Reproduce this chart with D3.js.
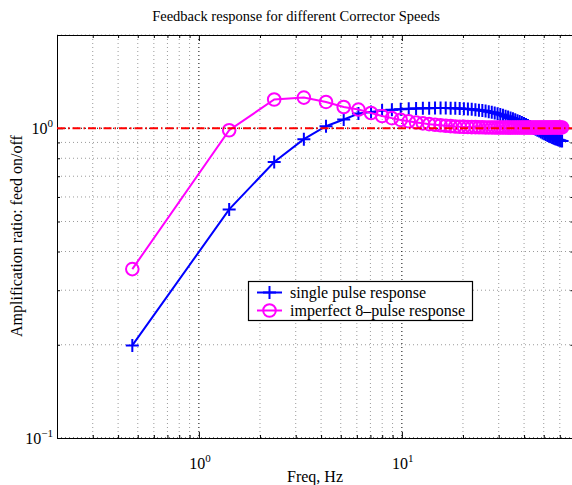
<!DOCTYPE html>
<html>
<head>
<meta charset="utf-8">
<script src="https://cdn.jsdelivr.net/npm/d3@7"></script>
<style>
  body { margin: 0; background: #fff; }
  svg { display: block; font-family: "Liberation Serif", "Times New Roman", serif; }
</style>
</head>
<body>
<svg></svg>
<script>
// odd harmonics of the base frequency, Hz
let freqs = [0.47, 1.41, 2.35, 3.29, 4.23, 5.17, 6.11, 7.05, 7.99, 8.93,
  9.87, 10.81, 11.75, 12.69, 13.63, 14.57, 15.51, 16.45, 17.39, 18.33,
  19.27, 20.21, 21.15, 22.09, 23.03, 23.97, 24.91, 25.85, 26.79, 27.73,
  28.67, 29.61, 30.55, 31.49, 32.43, 33.37, 34.31, 35.25, 36.19, 37.13,
  38.07, 39.01, 39.95, 40.89, 41.83, 42.77, 43.71, 44.65, 45.59, 46.53,
  47.47, 48.41, 49.35, 50.29, 51.23, 52.17, 53.11, 54.05, 54.99, 55.93,
  56.87, 57.81, 58.75, 59.69, 60.63, 61.57];

let singlePulse = [0.199, 0.547, 0.778, 0.922, 1.015, 1.067, 1.115, 1.129, 1.140, 1.147,
  1.152, 1.155, 1.158, 1.160, 1.161, 1.162, 1.162, 1.162, 1.161, 1.160,
  1.158, 1.156, 1.154, 1.151, 1.148, 1.144, 1.140, 1.136, 1.131, 1.126,
  1.120, 1.114, 1.108, 1.101, 1.094, 1.087, 1.080, 1.073, 1.066, 1.058,
  1.051, 1.043, 1.036, 1.028, 1.021, 1.013, 1.006, 0.999, 0.992, 0.985,
  0.979, 0.972, 0.966, 0.960, 0.954, 0.948, 0.943, 0.938, 0.933, 0.929,
  0.925, 0.921, 0.918, 0.915, 0.912, 0.910];

let eightPulse = [0.351, 0.985, 1.238, 1.256, 1.216, 1.171, 1.149, 1.120, 1.095, 1.078,
  1.064, 1.053, 1.044, 1.037, 1.031, 1.026, 1.022, 1.019, 1.016, 1.013,
  1.011, 1.010, 1.009, 1.008, 1.008, 1.007, 1.007, 1.006, 1.006, 1.006,
  1.005, 1.005, 1.005, 1.005, 1.005, 1.005, 1.005, 1.005, 1.005, 1.005,
  1.005, 1.005, 1.005, 1.005, 1.005, 1.005, 1.005, 1.005, 1.005, 1.005,
  1.005, 1.005, 1.005, 1.005, 1.005, 1.005, 1.005, 1.006, 1.006, 1.006,
  1.006, 1.006, 1.006, 1.006, 1.006, 1.006];

let seriesNames = ['single pulse response', 'imperfect 8\u2013pulse response'];
let refLevel = 1;

let xMajor = [1, 10];
let xMinor = [0.3, 0.4, 0.5, 0.6, 0.7, 0.8, 0.9, 2, 3, 4, 5, 6, 7, 8, 9, 20, 30, 40, 50, 60];
let yMajor = [0.1, 1];
let yMinor = [0.2, 0.3, 0.4, 0.5, 0.6, 0.7, 0.8, 0.9, 2];

let width = 572;
let height = 485;
let plotLeft = 57, plotRight = 573.4, plotTop = 35, plotBottom = 438;
let labelSize = 16;

let svg = d3.select('svg').attr('width', width).attr('height', height);

let xScale = d3.scaleLog().domain([0.2, 70]).range([plotLeft, plotRight]);
let yScale = d3.scaleLog().domain([0.1, 2]).range([plotBottom, plotTop]);

// dotted grid
let grid = svg.append('g');
grid.selectAll('.vminor').data(xMinor).enter().append('line')
    .attr('x1', d => xScale(d)).attr('x2', d => xScale(d))
    .attr('y1', plotTop).attr('y2', plotBottom)
    .attr('stroke', '#9a9a9a').attr('stroke-dasharray', '1,3');
grid.selectAll('.hminor').data(yMinor).enter().append('line')
    .attr('y1', d => yScale(d)).attr('y2', d => yScale(d))
    .attr('x1', plotLeft).attr('x2', plotRight)
    .attr('stroke', '#9a9a9a').attr('stroke-dasharray', '1,3');
grid.selectAll('.vmajor').data(xMajor).enter().append('line')
    .attr('x1', d => xScale(d)).attr('x2', d => xScale(d))
    .attr('y1', plotTop).attr('y2', plotBottom)
    .attr('stroke', '#000').attr('stroke-dasharray', '1,3');
grid.selectAll('.hmajor').data(yMajor).enter().append('line')
    .attr('y1', d => yScale(d)).attr('y2', d => yScale(d))
    .attr('x1', plotLeft).attr('x2', plotRight)
    .attr('stroke', '#000').attr('stroke-dasharray', '1,3');

// inward ticks on all four sides
let addAxis = (axis, tx, ty) => {
  let g = svg.append('g').attr('transform', `translate(${tx}, ${ty})`).call(axis);
  g.select('.domain').remove();
  g.selectAll('text').remove();
  g.selectAll('line').attr('stroke', '#000');
};
addAxis(d3.axisBottom(xScale).tickValues(xMajor).tickSize(-6), 0, plotBottom);
addAxis(d3.axisBottom(xScale).tickValues(xMinor).tickSize(-3), 0, plotBottom);
addAxis(d3.axisTop(xScale).tickValues(xMajor).tickSize(-6), 0, plotTop);
addAxis(d3.axisTop(xScale).tickValues(xMinor).tickSize(-3), 0, plotTop);
addAxis(d3.axisLeft(yScale).tickValues(yMajor).tickSize(-6), plotLeft, 0);
addAxis(d3.axisLeft(yScale).tickValues(yMinor).tickSize(-3), plotLeft, 0);
addAxis(d3.axisRight(yScale).tickValues(yMajor).tickSize(-6), plotRight, 0);
addAxis(d3.axisRight(yScale).tickValues(yMinor).tickSize(-3), plotRight, 0);

svg.append('rect')
    .attr('x', plotLeft + 0.5).attr('y', plotTop + 0.5)
    .attr('width', plotRight - plotLeft).attr('height', plotBottom - plotTop)
    .attr('fill', 'none').attr('stroke', '#000').attr('stroke-width', 1);

// power-of-ten labels
let powLabel = (sel, exp) => {
  sel.append('tspan').text('10');
  sel.append('tspan').attr('dy', -7).attr('font-size', 11).text(exp);
};
xMajor.forEach(v => {
  let t = svg.append('text')
      .attr('x', xScale(v) + 1).attr('y', 469)
      .attr('text-anchor', 'middle').attr('font-size', labelSize);
  powLabel(t, String(Math.round(Math.log10(v))));
});
yMajor.forEach(v => {
  let t = svg.append('text')
      .attr('x', 53).attr('y', yScale(v) + 6)
      .attr('text-anchor', 'end').attr('font-size', labelSize);
  powLabel(t, String(Math.round(Math.log10(v))).replace('-', '\u2212'));
});

// data lines
let pts = (vals) => freqs.map((f, i) => [f, vals[i]]);
let line = d3.line().x(d => xScale(d[0])).y(d => yScale(d[1]));

let plusPath = (x, y, s) => `M${x - s},${y}H${x + s}M${x},${y - s}V${y + s}`;

let blue = svg.append('g');
blue.append('path').attr('d', line(pts(singlePulse)))
    .attr('fill', 'none').attr('stroke', '#0000ff').attr('stroke-width', 2);
blue.selectAll('path.m').data(pts(singlePulse)).enter().append('path')
    .attr('class', 'm')
    .attr('d', d => plusPath(xScale(d[0]), yScale(d[1]), 6.5))
    .attr('stroke', '#0000ff').attr('stroke-width', 2);

let pink = svg.append('g');
pink.append('path').attr('d', line(pts(eightPulse)))
    .attr('fill', 'none').attr('stroke', '#ff00ff').attr('stroke-width', 2);
pink.selectAll('circle').data(pts(eightPulse)).enter().append('circle')
    .attr('cx', d => xScale(d[0])).attr('cy', d => yScale(d[1]))
    .attr('r', 6.3)
    .attr('fill', 'none').attr('stroke', '#ff00ff').attr('stroke-width', 2);

// unity reference
svg.append('line')
    .attr('x1', plotLeft).attr('x2', plotRight)
    .attr('y1', yScale(refLevel)).attr('y2', yScale(refLevel))
    .attr('stroke', '#ff0000').attr('stroke-width', 2)
    .attr('stroke-dasharray', '8,3,1.5,3');

// legend
let lg = svg.append('g');
lg.append('rect').attr('x', 248.5).attr('y', 281.5).attr('width', 224).attr('height', 39)
    .attr('fill', '#fff').attr('stroke', '#000').attr('stroke-width', 1.2);
lg.append('line').attr('x1', 257).attr('x2', 282).attr('y1', 292.5).attr('y2', 292.5)
    .attr('stroke', '#0000ff').attr('stroke-width', 2);
lg.append('path').attr('d', plusPath(269.5, 292.5, 6.5))
    .attr('stroke', '#0000ff').attr('stroke-width', 2);
lg.append('line').attr('x1', 257).attr('x2', 282).attr('y1', 310.5).attr('y2', 310.5)
    .attr('stroke', '#ff00ff').attr('stroke-width', 2);
lg.append('circle').attr('cx', 269.5).attr('cy', 310.5).attr('r', 6.3)
    .attr('fill', 'none').attr('stroke', '#ff00ff').attr('stroke-width', 2);
lg.append('text').attr('x', 290).attr('y', 298).attr('font-size', labelSize).text(seriesNames[0]);
lg.append('text').attr('x', 290).attr('y', 316).attr('font-size', labelSize).text(seriesNames[1]);

// titles
svg.append('text').attr('x', 296).attr('y', 21).attr('text-anchor', 'middle')
    .attr('font-size', 14.5).text('Feedback response for different Corrector Speeds');
svg.append('text').attr('x', 315).attr('y', 482).attr('text-anchor', 'middle')
    .attr('font-size', labelSize).text('Freq, Hz');
svg.append('text').attr('transform', 'translate(22, 236) rotate(-90)')
    .attr('text-anchor', 'middle').attr('font-size', labelSize)
    .text('Amplification ratio: feed on/off');
</script>
</body>
</html>
